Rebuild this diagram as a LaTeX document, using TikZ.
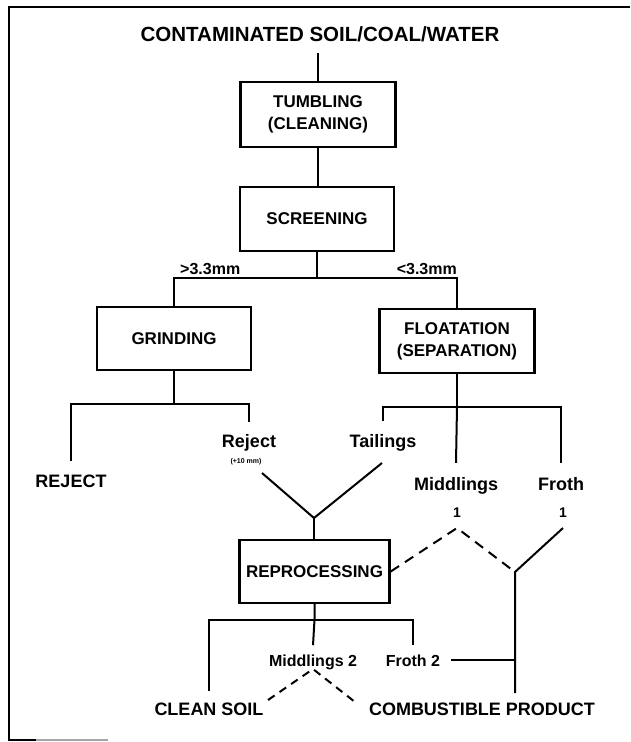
\documentclass[tikz,border=0pt]{standalone}
\usepackage{fontspec}
\setmainfont{Liberation Sans}
\usetikzlibrary{calc}
\begin{document}
\begin{tikzpicture}[x=1pt,y=-1pt,
  flow/.style={line width=2pt},
  dashflow/.style={line width=2pt, dash pattern=on 10pt off 7pt},
  dashsmall/.style={line width=2pt, dash pattern=on 8pt off 6pt},
  box/.style={draw, line width=2.4pt, inner sep=0pt, align=center,
    font=\bfseries\fontsize{17}{22}\selectfont},
  lbl/.style={inner sep=0pt, anchor=base, font=\bfseries\fontsize{18}{22}\selectfont},
  sublbl/.style={inner sep=0pt, anchor=base, font=\bfseries\fontsize{16}{20}\selectfont},
  numlbl/.style={inner sep=0pt, anchor=base, font=\bfseries\fontsize{14}{16}\selectfont},
  tinylbl/.style={inner sep=0pt, anchor=base, font=\bfseries\fontsize{7}{8}\selectfont}
]
\useasboundingbox (0,0) rectangle (630,742);

% frame
\draw[line width=2pt] (630,7) -- (9,7) -- (9,740) -- (36,740);
\draw[line width=1.5pt, black!35] (36,740) -- (108,740);

% title and process boxes
\node[inner sep=0pt, anchor=base, font=\bfseries\fontsize{20.5}{24}\selectfont]
  (title) at (320,41) {CONTAMINATED SOIL/COAL/WATER};
\node[box, minimum width=155pt, minimum height=65pt] (tumb) at (318,114.5) {TUMBLING\\(CLEANING)};
\node[box, minimum width=154pt, minimum height=64pt] (scr) at (317,219) {SCREENING};
\node[box, minimum width=154pt, minimum height=63pt] (grind) at (174,338.5) {GRINDING};
\node[box, minimum width=155pt, minimum height=64pt] (flo) at (457,341) {FLOATATION\\(SEPARATION)};
\node[box, minimum width=150pt, minimum height=63pt] (rep) at (314.5,571.5) {REPROCESSING};

% size labels
\node[sublbl, anchor=base west] (gt) at (180,274) {>3.3mm};
\node[sublbl, anchor=base east] (lt) at (457,274) {<3.3mm};

% product labels
\node[lbl] (rejA) at (71,487) {REJECT};
\node[lbl] (rejB) at (249,447) {Reject};
\node[tinylbl] (rejsz) at (246,463) {(+10 mm)};
\node[lbl] (tail) at (383,447) {Tailings};
\node[lbl] (mid1) at (456,490) {Middlings};
\node[lbl] (fr1) at (561,490) {Froth};
\node[numlbl] (mid1n) at (457,517) {1};
\node[numlbl] (fr1n) at (563,517) {1};
\node[sublbl] (mid2) at (313,666) {Middlings 2};
\node[sublbl] (fr2) at (413,666) {Froth 2};
\node[lbl] (clean) at (209,715) {CLEAN SOIL};
\node[lbl] (prod) at (482,715) {COMBUSTIBLE PRODUCT};

% junction points
\coordinate (sj) at (317,278);
\coordinate (gj) at (174,404);
\coordinate (fj) at (457,407);
\coordinate (rjo) at (262,473);
\coordinate (tlo) at (382,463);
\coordinate (vj) at (314,518);
\coordinate (m1) at (457,528);
\coordinate (f1) at (563,528);
\coordinate (yj) at (515,572);
\coordinate (pt) at (515,693);
\coordinate (rj) at (314.5,620);
\coordinate (m2a) at (313,669);
\coordinate (csd) at (268,700);
\coordinate (cpd) at (355,702);

% main line
\draw[flow] ($(tumb.north|-title.base)+(0,12)$) -- (tumb.north);
\draw[flow] (tumb.south) -- (tumb.south|-scr.north);
\draw[flow] (scr.south) -- (sj);
\draw[flow] (grind.north) |- (sj) -| (flo.north);

% grinding outputs
\draw[flow] (grind.south) -- (gj);
\draw[flow] ($(rejA.north)+(0,-13)$) |- (gj) -| ($(rejB.north)+(0,-12)$);

% floatation outputs
\draw[flow] (flo.south) -- (fj);
\draw[flow] ($(tail.north)+(0,-13)$) |- (fj) -| ($(fr1.north)+(0,-14)$);
\draw[flow] (fj) -- ($(mid1.north)+(0,-14)$);

% to reprocessing
\draw[flow] (rjo) -- (vj) -- (tlo);
\draw[flow] (vj) -- (vj|-rep.north);

% middlings 1 / froth 1
\draw[dashflow] (rep.east) -- (m1) -- (yj);
\draw[flow] (f1) -- (yj) -- (pt);

% reprocessing outputs
\draw[flow] (rep.south) -- (rj) -- ($(mid2.north)+(0,-9)$);
\draw[flow] ($(clean.north)+(0,-11)$) |- (rj) -| ($(fr2.north)+(0,-9)$);
\draw[flow] ($(fr2.east)+(11,0)$) -- (fr2.east-|yj);
\draw[dashsmall] (csd) -- (m2a) -- (cpd);
\end{tikzpicture}
\end{document}
